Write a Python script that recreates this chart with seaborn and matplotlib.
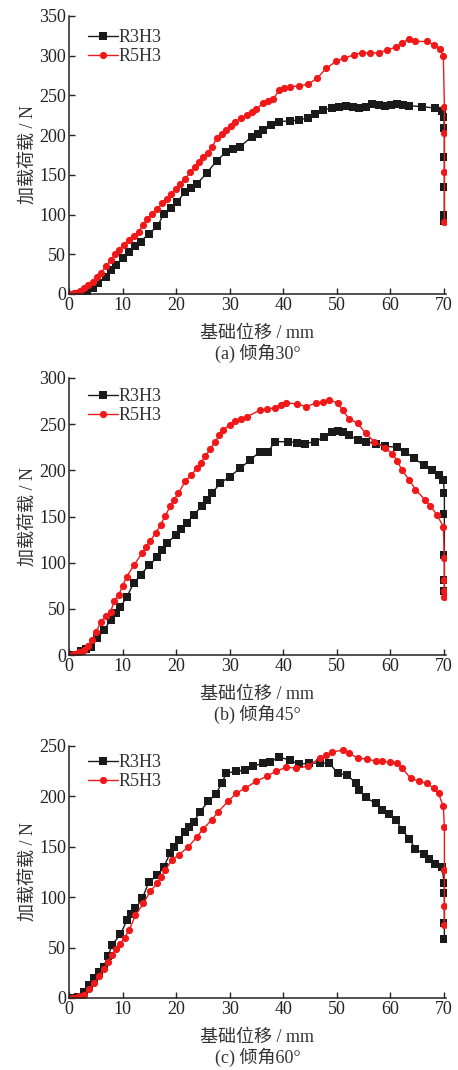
import numpy as np
import pandas as pd
import matplotlib
matplotlib.use("Agg")
import matplotlib.pyplot as plt
import seaborn as sns

# --- data (displacement mm, load N) ---
x_a_r3 = [1.5, 2.5, 3.4, 4.4, 5.5, 6.9, 7.8, 8.7, 10.0, 11.2, 12.3, 13.4, 14.9, 16.5, 17.7,
          19.0, 20.2, 21.7, 22.8, 23.9, 25.7, 27.6, 29.4, 30.6, 31.9, 34.1, 35.2, 36.2, 37.8, 39.3,
          41.2, 43.0, 44.6, 46.0, 47.5, 49.2, 50.5, 51.7, 53.0, 54.2, 55.5, 56.6, 57.9, 59.1, 60.2,
          61.3, 62.4, 63.5, 65.9, 68.4, 69.6, 70.0, 70.1, 70.1, 70.1, 70.1, 70.1]
y_a_r3 = [0, 1, 3, 7, 14, 22, 30, 36, 45, 53, 60, 66, 76, 85, 101,
          108, 116, 129, 134, 139, 152, 168, 179, 182, 185, 198, 202, 206, 213, 217,
          218, 219, 222, 226, 232, 234, 236, 237, 235, 234, 236, 239, 238, 237, 238,
          239, 238, 237, 236, 234, 230, 223, 209, 173, 135, 99, 92]
x_a_r5 = [0.3, 1.0, 2.0, 2.8, 3.6, 4.4, 5.2, 5.9, 6.9, 7.8, 8.6, 9.3, 10.2, 11.2, 12.1,
          13.0, 13.8, 14.6, 15.5, 16.5, 17.4, 18.3, 19.1, 19.9, 20.8, 21.7, 22.6, 23.6, 24.3, 25.1,
          25.9, 26.7, 27.6, 28.5, 29.4, 30.2, 31.0, 32.1, 33.2, 34.1, 35.0, 36.2, 37.2, 38.1, 39.3,
          40.2, 41.2, 42.9, 44.6, 46.4, 48.0, 49.9, 51.4, 53.2, 54.8, 56.3, 57.9, 59.4, 61.0, 62.2,
          63.5, 64.7, 66.8, 68.1, 69.3, 69.9, 70.1, 70.1, 70.1, 70.1]
y_a_r5 = [0, 1, 4, 7, 11, 15, 21, 26, 35, 43, 50, 55, 62, 68, 73,
          78, 87, 95, 101, 107, 114, 120, 126, 132, 139, 145, 153, 160, 166, 172,
          178, 185, 196, 201, 206, 212, 217, 221, 225, 229, 233, 240, 243, 245, 257,
          259, 261, 262, 264, 272, 284, 293, 297, 301, 304, 303, 304, 307, 311, 316,
          321, 318, 318, 314, 309, 300, 236, 203, 154, 91]

x_b_r3 = [1.0, 2.2, 3.2, 4.1, 5.3, 6.5, 7.8, 8.7, 9.6, 10.8, 12.1, 13.4, 14.9, 16.5, 17.4,
          18.3, 19.9, 21.0, 22.0, 23.3, 24.8, 25.8, 26.7, 28.2, 30.0, 31.9, 33.8, 35.6, 37.2, 38.4,
          40.9, 42.5, 44.0, 45.9, 47.7, 49.2, 50.2, 51.2, 52.3, 53.9, 55.4, 57.3, 59.1, 61.3, 62.8,
          64.4, 66.2, 67.8, 69.0, 69.9, 70.1, 70.1, 70.1, 70.1, 70.1]
y_b_r3 = [0, 4, 6, 9, 18, 27, 38, 45, 52, 63, 78, 87, 97, 106, 114,
          121, 130, 137, 143, 152, 161, 168, 175, 186, 193, 202, 211, 220, 220, 231,
          231, 230, 229, 231, 236, 242, 243, 241, 238, 233, 231, 229, 226, 225, 220,
          213, 206, 200, 195, 190, 175, 153, 108, 81, 69]
x_b_r5 = [0.5, 1.0, 1.9, 2.8, 3.5, 4.3, 5.1, 5.9, 6.9, 7.8, 8.4, 9.3, 10.0, 10.8, 12.1,
          13.6, 14.4, 15.2, 16.2, 17.1, 18.0, 18.9, 19.6, 20.4, 21.7, 22.8, 23.9, 24.6, 25.4, 26.4,
          27.3, 28.1, 28.8, 30.0, 31.0, 32.1, 33.2, 35.6, 37.0, 38.4, 39.5, 40.6, 42.5, 44.3, 46.2,
          47.4, 48.6, 50.2, 51.1, 52.3, 53.9, 55.4, 57.0, 59.1, 60.4, 61.3, 62.2, 63.5, 64.7, 66.5,
          67.5, 68.7, 69.9, 70.1, 70.1, 70.1, 70.1]
y_b_r5 = [0, 1, 3, 5, 10, 16, 25, 36, 42, 47, 58, 65, 75, 85, 97,
          110, 117, 124, 132, 141, 151, 161, 168, 175, 188, 195, 202, 208, 215, 223,
          231, 238, 244, 249, 253, 256, 258, 265, 266, 268, 271, 273, 272, 269, 273,
          274, 276, 273, 265, 256, 251, 240, 231, 224, 218, 210, 200, 190, 179, 168,
          161, 152, 139, 105, 81, 69, 63]

x_c_r3 = [1.0, 1.6, 2.8, 3.7, 4.7, 5.6, 6.5, 7.3, 8.1, 9.6, 10.8, 11.6, 12.4, 13.7, 14.9,
          16.5, 17.7, 18.9, 19.7, 20.5, 21.7, 22.5, 23.3, 24.5, 26.0, 27.4, 28.5, 29.4, 31.2, 32.8,
          34.4, 36.2, 37.5, 39.3, 41.2, 43.0, 44.9, 46.8, 48.6, 50.2, 52.0, 53.6, 54.2, 55.4, 57.3,
          58.5, 59.7, 61.0, 62.2, 63.5, 64.7, 66.2, 67.2, 68.4, 69.6, 70.1, 70.1, 70.1, 70.1]
y_c_r3 = [0, 1, 6, 13, 20, 26, 31, 42, 53, 63, 77, 83, 89, 99, 115,
          122, 130, 144, 150, 157, 165, 170, 175, 185, 195, 202, 213, 223, 225, 226,
          230, 233, 234, 239, 236, 232, 233, 233, 233, 223, 221, 213, 206, 199, 193,
          187, 183, 177, 167, 158, 148, 143, 138, 133, 130, 114, 104, 74, 59]
x_c_r5 = [0.5, 1.0, 1.9, 2.8, 3.7, 4.7, 5.6, 6.5, 7.3, 8.1, 8.8, 9.6, 10.4, 11.2, 12.4,
          13.9, 15.2, 16.5, 17.2, 18.0, 19.2, 20.5, 22.3, 23.9, 25.1, 26.7, 27.9, 29.7, 31.2, 32.8,
          35.0, 36.9, 38.7, 40.6, 42.4, 44.6, 46.8, 48.0, 49.2, 51.1, 52.3, 53.9, 55.7, 57.3, 58.5,
          60.0, 61.3, 62.2, 63.8, 65.3, 66.8, 68.1, 69.0, 69.9, 70.1, 70.1, 70.1, 70.1]
y_c_r5 = [0, 0, 2, 3, 9, 15, 22, 29, 36, 43, 49, 54, 60, 67, 82,
          94, 106, 114, 120, 127, 137, 142, 150, 160, 168, 177, 185, 195, 203, 208,
          215, 220, 225, 229, 228, 230, 238, 241, 244, 246, 243, 238, 237, 235, 235,
          234, 233, 228, 218, 215, 213, 208, 203, 190, 170, 127, 91, 72]

series_names = ["R3H3", "R5H3"]
captions = ["(a) 倾角30°", "(b) 倾角45°", "(c) 倾角60°"]
y_limits = [350, 300, 250]
x_label = "基础位移 / mm"
y_label = "加载荷载 / N"

panels = [
    (x_a_r3, y_a_r3, x_a_r5, y_a_r5),
    (x_b_r3, y_b_r3, x_b_r5, y_b_r5),
    (x_c_r3, y_c_r3, x_c_r5, y_c_r5),
]

sns.set_style("ticks")
plt.rcParams["font.family"] = ["Liberation Serif", "Noto Sans CJK SC"]
plt.rcParams["axes.unicode_minus"] = False

W, H = 458, 1070
fig = plt.figure(figsize=(W / 100, H / 100), dpi=100)

# axes boxes in pixels: (left, top, right, bottom)
boxes = [(69, 16, 446, 294), (69, 378, 446, 655), (69, 746, 446, 998)]
legend_y = [0.978, 0.989, 0.996]

for i, (xr3, yr3, xr5, yr5) in enumerate(panels):
    l, t, r, b = boxes[i]
    ax = fig.add_axes([l / W, 1 - b / H, (r - l) / W, (b - t) / H])

    df = pd.concat([
        pd.DataFrame({"x": xr3, "y": yr3, "s": series_names[0]}),
        pd.DataFrame({"x": xr5, "y": yr5, "s": series_names[1]}),
    ], ignore_index=True)

    sns.lineplot(data=df, x="x", y="y", hue="s", style="s",
                 palette={"R3H3": "#1a1a1a", "R5H3": "#f01818"},
                 markers={"R3H3": "s", "R5H3": "o"},
                 dashes=False, estimator=None, sort=False,
                 linewidth=1.0, markersize=5.2, markeredgewidth=0,
                 ax=ax)

    ax.set_xlim(0, 70.4)
    ax.set_ylim(0, y_limits[i])
    ax.set_xticks(np.arange(0, 71, 10))
    ax.set_yticks(np.arange(0, y_limits[i] + 1, 50))
    ax.tick_params(direction="in", length=4, width=1, labelsize=13, pad=2, colors="#222222")
    for side in ["top", "right"]:
        ax.spines[side].set_visible(False)
    for side in ["left", "bottom"]:
        ax.spines[side].set_linewidth(1.1)
        ax.spines[side].set_color("#222222")

    ax.set_xlabel("")
    ax.set_ylabel(y_label, fontsize=13, labelpad=2, color="#333333")

    leg = ax.legend(loc="upper left", bbox_to_anchor=(0.03, legend_y[i]), frameon=False,
                    fontsize=13, handlelength=1.7, handletextpad=0.0,
                    labelspacing=0.1, borderaxespad=0.0)
    for txt in leg.get_texts():
        txt.set_color("#333333")

    cx = (l + r) / 2 / W
    fig.text(cx, 1 - (b + 39) / H, x_label, ha="center", va="center",
             fontsize=13, color="#333333")
    fig.text(cx, 1 - (b + 59) / H, captions[i], ha="center", va="center",
             fontsize=13, color="#333333")

fig.savefig("out.png", dpi=100)
